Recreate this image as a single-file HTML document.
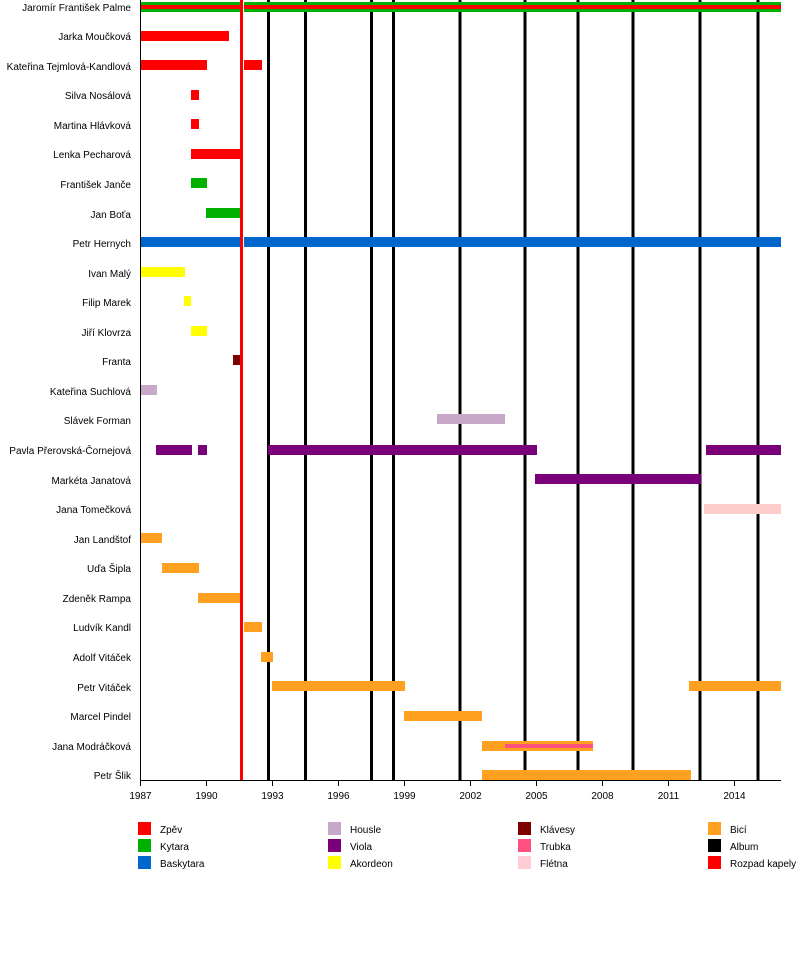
<!DOCTYPE html>
<html><head><meta charset="utf-8"><style>
body{margin:0;background:#fff}
svg{display:block}
text{font-family:"Liberation Sans",sans-serif;font-size:10px;fill:#000}
</style></head><body>
<svg width="800" height="960" viewBox="0 0 800 960">
<g stroke="#000" stroke-width="3">
<line x1="268.5" y1="0" x2="268.5" y2="781"/><line x1="305.5" y1="0" x2="305.5" y2="781"/>
<line x1="371.5" y1="0" x2="371.5" y2="781"/><line x1="393.5" y1="0" x2="393.5" y2="781"/>
<line x1="460" y1="0" x2="460" y2="781"/><line x1="525" y1="0" x2="525" y2="781"/>
<line x1="578" y1="0" x2="578" y2="781"/><line x1="633" y1="0" x2="633" y2="781"/>
<line x1="700" y1="0" x2="700" y2="781"/><line x1="758" y1="0" x2="758" y2="781"/>
</g>
<g>
<rect x="141" y="2" width="99" height="10" fill="#00b000"/><rect x="244" y="2" width="537" height="10" fill="#00b000"/>
<rect x="141" y="5" width="99" height="4" fill="#ff0000"/><rect x="244" y="5" width="537" height="4" fill="#ff0000"/>
<g fill="#ff0000">
<rect x="141" y="31" width="88" height="10"/>
<rect x="141" y="60" width="66" height="10"/><rect x="244" y="60" width="18" height="10"/>
<rect x="191" y="90" width="8" height="10"/>
<rect x="191" y="119" width="8" height="10"/>
<rect x="191" y="149" width="50" height="10"/>
</g>
<g fill="#00b000">
<rect x="191" y="178" width="16" height="10"/>
<rect x="206" y="208" width="34" height="10"/>
</g>
<rect x="141" y="237" width="99" height="10" fill="#0066cc"/><rect x="244" y="237" width="537" height="10" fill="#0066cc"/>
<g fill="#ffff00">
<rect x="141" y="267" width="44" height="10"/>
<rect x="184" y="296" width="7" height="10"/>
<rect x="191" y="326" width="16" height="10"/>
</g>
<rect x="233" y="355" width="7" height="10" fill="#800000"/>
<g fill="#c8a8c8">
<rect x="141" y="385" width="16" height="10"/>
<rect x="437" y="414" width="68" height="10"/>
</g>
<g fill="#7a007a">
<rect x="156" y="445" width="36" height="10"/><rect x="198" y="445" width="9" height="10"/>
<rect x="268" y="445" width="269" height="10"/><rect x="706" y="445" width="75" height="10"/>
<rect x="535" y="474" width="166" height="10"/>
</g>
<rect x="704" y="504" width="77" height="10" fill="#ffcccc"/>
<g fill="#ffa020">
<rect x="141" y="533" width="21" height="10"/>
<rect x="162" y="563" width="37" height="10"/>
<rect x="198" y="593" width="42" height="10"/>
<rect x="244" y="622" width="18" height="10"/>
<rect x="261" y="652" width="12" height="10"/>
<rect x="272" y="681" width="133" height="10"/><rect x="689" y="681" width="92" height="10"/>
<rect x="404" y="711" width="78" height="10"/>
<rect x="482" y="741" width="111" height="10"/>
<rect x="482" y="770" width="209" height="10"/>
</g>
<rect x="505" y="744" width="88" height="4" fill="#ff5080"/>
</g>
<line x1="241.5" y1="0" x2="241.5" y2="781" stroke="#ff0000" stroke-width="3"/>
<g stroke="#000" stroke-width="1">
<line x1="140.5" y1="0" x2="140.5" y2="781"/>
<line x1="140" y1="780.5" x2="781" y2="780.5"/>
<line x1="140.5" y1="781" x2="140.5" y2="786"/><line x1="206.5" y1="781" x2="206.5" y2="786"/>
<line x1="272.5" y1="781" x2="272.5" y2="786"/><line x1="338.5" y1="781" x2="338.5" y2="786"/>
<line x1="404.5" y1="781" x2="404.5" y2="786"/><line x1="470.5" y1="781" x2="470.5" y2="786"/>
<line x1="536.5" y1="781" x2="536.5" y2="786"/><line x1="602.5" y1="781" x2="602.5" y2="786"/>
<line x1="668.5" y1="781" x2="668.5" y2="786"/><line x1="734.5" y1="781" x2="734.5" y2="786"/>
</g>
<g text-anchor="middle">
<text x="140.5" y="799">1987</text><text x="206.5" y="799">1990</text><text x="272.5" y="799">1993</text>
<text x="338.5" y="799">1996</text><text x="404.5" y="799">1999</text><text x="470.5" y="799">2002</text>
<text x="536.5" y="799">2005</text><text x="602.5" y="799">2008</text><text x="668.5" y="799">2011</text>
<text x="734.5" y="799">2014</text>
</g>
<g text-anchor="end">
<text x="131" y="11">Jaromír František Palme</text>
<text x="131" y="40">Jarka Moučková</text>
<text x="131" y="70">Kateřina Tejmlová-Kandlová</text>
<text x="131" y="99">Silva Nosálová</text>
<text x="131" y="129">Martina Hlávková</text>
<text x="131" y="158">Lenka Pecharová</text>
<text x="131" y="188">František Janče</text>
<text x="131" y="218">Jan Boťa</text>
<text x="131" y="247">Petr Hernych</text>
<text x="131" y="277">Ivan Malý</text>
<text x="131" y="306">Filip Marek</text>
<text x="131" y="336">Jiří Klovrza</text>
<text x="131" y="365">Franta</text>
<text x="131" y="395">Kateřina Suchlová</text>
<text x="131" y="424">Slávek Forman</text>
<text x="131" y="454">Pavla Přerovská-Čornejová</text>
<text x="131" y="484">Markéta Janatová</text>
<text x="131" y="513">Jana Tomečková</text>
<text x="131" y="543">Jan Landštof</text>
<text x="131" y="572">Uďa Šipla</text>
<text x="131" y="602">Zdeněk Rampa</text>
<text x="131" y="631">Ludvík Kandl</text>
<text x="131" y="661">Adolf Vitáček</text>
<text x="131" y="691">Petr Vitáček</text>
<text x="131" y="720">Marcel Pindel</text>
<text x="131" y="750">Jana Modráčková</text>
<text x="131" y="779">Petr Šlik</text>
</g>
<g>
<rect x="138" y="822" width="13" height="13" fill="#ff0000"/><text x="160" y="833">Zpěv</text>
<rect x="138" y="839" width="13" height="13" fill="#00b000"/><text x="160" y="850">Kytara</text>
<rect x="138" y="856" width="13" height="13" fill="#0066cc"/><text x="160" y="867">Baskytara</text>
<rect x="328" y="822" width="13" height="13" fill="#c8a8c8"/><text x="350" y="833">Housle</text>
<rect x="328" y="839" width="13" height="13" fill="#7a007a"/><text x="350" y="850">Viola</text>
<rect x="328" y="856" width="13" height="13" fill="#ffff00"/><text x="350" y="867">Akordeon</text>
<rect x="518" y="822" width="13" height="13" fill="#800000"/><text x="540" y="833">Klávesy</text>
<rect x="518" y="839" width="13" height="13" fill="#ff5080"/><text x="540" y="850">Trubka</text>
<rect x="518" y="856" width="13" height="13" fill="#ffccd5"/><text x="540" y="867">Flétna</text>
<rect x="708" y="822" width="13" height="13" fill="#ffa020"/><text x="730" y="833">Bicí</text>
<rect x="708" y="839" width="13" height="13" fill="#000"/><text x="730" y="850">Album</text>
<rect x="708" y="856" width="13" height="13" fill="#ff0000"/><text x="730" y="867">Rozpad kapely</text>
</g>
</svg>
</body></html>
